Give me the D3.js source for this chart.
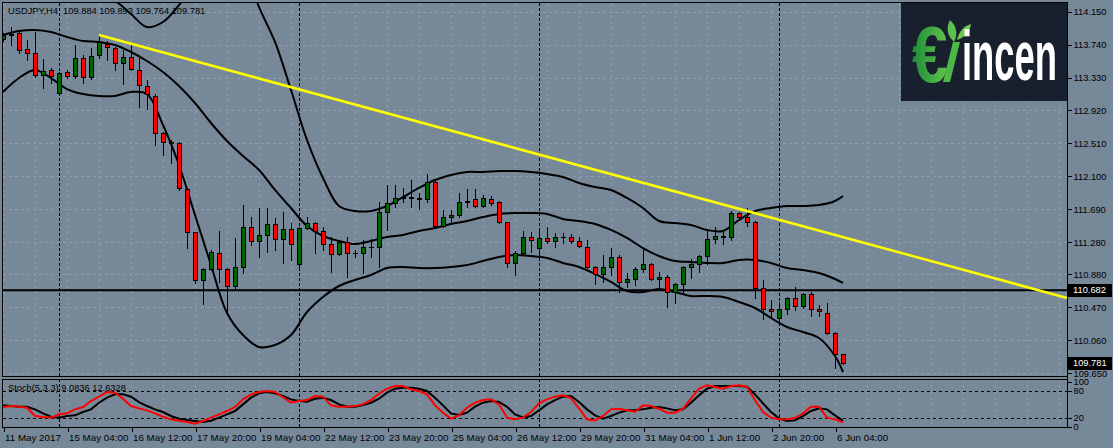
<!DOCTYPE html>
<html><head><meta charset="utf-8">
<script src="https://cdn.jsdelivr.net/npm/d3@7"></script>
<style>
html,body{margin:0;padding:0;background:#778899;}
svg{display:block;}
text{font-family:"Liberation Sans",Arial,sans-serif;}
</style></head><body>
<svg id="c" width="1113" height="448"></svg>
<script>
// ---------- DATA ----------
const symbolTitle = "USDJPY,H4  109.884 109.893 109.764 109.781";
const opens = [113.806,113.860,113.881,113.681,113.632,113.362,113.424,113.142,113.395,113.349,
113.569,113.341,113.611,113.748,113.694,113.515,113.590,113.424,113.229,113.100,
112.635,112.532,112.511,111.938,111.402,110.809,110.942,111.149,110.942,110.738,
110.967,111.465,111.294,111.369,111.506,111.315,111.440,111.008,111.452,111.515,
111.419,111.257,111.129,111.286,111.141,111.141,111.216,111.216,111.660,111.764,
111.826,111.838,111.834,111.813,112.033,111.481,111.598,111.618,111.784,111.813,
111.730,111.813,111.784,111.527,111.017,111.149,111.348,111.203,111.336,111.294,
111.340,111.348,111.294,111.216,110.967,110.884,110.975,111.099,110.780,110.817,
110.942,111.004,110.821,110.850,110.663,110.759,110.967,111.004,111.108,111.315,
111.357,111.340,111.639,111.589,111.535,110.705,110.448,110.332,110.444,110.581,
110.485,110.630,110.444,110.402,110.153,109.884];
const highs = [113.881,113.955,113.901,113.798,113.901,113.557,113.445,113.403,113.424,113.735,
113.611,113.694,113.860,113.780,113.715,113.673,113.735,113.569,113.299,113.125,
112.656,112.552,112.532,111.950,111.411,110.954,111.182,111.423,110.954,111.328,
111.743,111.598,111.701,111.701,111.577,111.660,111.523,111.465,111.598,111.535,
111.473,111.348,111.307,111.348,111.182,111.307,111.315,111.784,111.992,111.992,
111.950,112.054,111.888,112.129,112.054,111.681,111.681,111.896,111.938,111.938,
111.867,111.855,111.797,111.535,111.174,111.423,111.411,111.432,111.473,111.398,
111.390,111.382,111.340,111.307,110.983,111.120,111.203,111.120,110.892,110.975,
111.203,111.017,110.913,110.871,110.767,110.983,111.066,111.120,111.432,111.473,
111.432,111.672,111.660,111.701,111.548,110.809,110.560,110.539,110.601,110.717,
110.643,110.663,110.498,110.518,110.165,109.893];
const lows = [113.790,113.735,113.632,113.549,113.341,113.196,113.258,113.134,113.320,113.320,
113.258,113.308,113.569,113.549,113.424,113.250,113.424,112.959,112.934,112.490,
112.365,112.262,111.930,111.203,110.767,110.510,110.933,110.788,110.370,110.684,
110.892,111.245,111.099,111.162,111.182,111.025,111.058,110.967,111.445,111.141,
111.182,110.913,111.120,110.850,111.099,110.892,111.091,110.975,111.432,111.722,
111.784,111.722,111.689,111.784,111.473,111.465,111.535,111.598,111.722,111.714,
111.714,111.743,111.523,110.967,110.871,111.133,111.162,111.099,111.274,111.216,
111.274,111.265,111.216,110.954,110.759,110.788,110.871,110.663,110.726,110.747,
110.913,110.809,110.684,110.468,110.526,110.651,110.830,110.913,111.008,111.265,
111.257,111.307,111.556,111.481,110.581,110.319,110.361,110.290,110.385,110.435,
110.456,110.361,110.361,110.136,109.709,109.764];
const closes = [113.860,113.875,113.673,113.632,113.362,113.416,113.349,113.391,113.349,113.569,
113.341,113.598,113.773,113.706,113.507,113.590,113.432,113.233,113.125,112.635,
112.532,112.511,111.950,111.411,110.809,110.942,111.162,110.942,110.738,110.967,
111.465,111.299,111.369,111.506,111.315,111.440,111.257,111.452,111.515,111.419,
111.257,111.129,111.286,111.141,111.143,111.216,111.218,111.660,111.764,111.826,
111.838,111.834,111.813,112.033,111.481,111.598,111.618,111.784,111.797,111.730,
111.826,111.772,111.527,111.017,111.149,111.348,111.307,111.336,111.294,111.340,
111.344,111.294,111.232,110.967,110.884,110.975,111.099,110.780,110.817,110.942,
111.004,110.821,110.850,110.663,110.759,110.967,111.004,111.108,111.315,111.357,
111.340,111.639,111.589,111.535,110.705,110.444,110.423,110.444,110.581,110.485,
110.630,110.444,110.419,110.153,109.884,109.781];

// Bollinger bands (20,2) read every two bars
const bbIdx = [0,2,4,6,8,10,12,14,16,18,20,22,24,26,28,30,32,34,36,38,40,42,44,46,48,50,
52,54,56,58,60,62,64,66,68,70,72,74,76,78,80,82,84,86,88,90,92,94,96,98,100,102,104,105];
const bbUpper = [114.545,114.482,114.420,114.395,114.370,114.346,114.333,114.283,114.121,113.959,
114.022,114.233,114.482,114.850,115.000,114.750,114.209,113.773,113.175,112.552,
112.079,111.730,111.668,111.668,111.730,111.842,111.955,112.054,112.116,112.154,
112.154,112.166,112.166,112.154,112.129,112.092,112.017,111.967,111.930,111.830,
111.706,111.544,111.519,111.494,111.432,111.419,111.556,111.668,111.706,111.730,
111.730,111.743,111.793,111.855];
const bbMiddle = [113.860,113.910,113.922,113.897,113.835,113.785,113.773,113.735,113.648,113.536,
113.399,113.225,113.013,112.764,112.540,112.353,112.179,111.930,111.705,111.481,
111.357,111.295,111.257,111.295,111.344,111.369,111.419,111.456,111.506,111.544,
111.593,111.631,111.643,111.643,111.631,111.569,111.544,111.506,111.432,111.332,
111.207,111.108,111.045,111.033,111.021,111.021,111.058,111.058,111.021,110.958,
110.933,110.896,110.821,110.772];
const bbLower = [113.150,113.324,113.424,113.324,113.187,113.125,113.100,113.100,113.150,113.125,
112.739,112.241,111.618,110.996,110.398,110.124,109.975,109.999,110.124,110.410,
110.597,110.734,110.809,110.871,110.958,110.971,110.958,110.958,110.971,110.996,
111.045,111.095,111.120,111.108,111.083,111.021,110.971,110.884,110.784,110.672,
110.659,110.697,110.659,110.610,110.610,110.597,110.535,110.460,110.336,110.224,
110.161,110.087,109.862,109.663];

// Stochastic (5,3,3)
const stochLabel = "Stoch(5,3,3) 9.0836 12.6328";
const stochK = [43.3,45.5,44,41.8,23.3,21,19.6,27,29.2,38.1,
43.3,56.6,66.3,76.6,75.2,61.8,45.5,40.3,35.9,29.2,
21.8,15.9,12.9,10,6.2,12.2,19.6,27,34.4,43.3,
60.3,71.4,76.6,78.9,76.6,65,52.9,56.6,58.8,67.7,
66.3,47,44,44,45.5,49.2,58.8,72.9,84,90,
90,82.6,78.9,71.4,47,30.7,17.4,24.8,41.8,52.9,
58.8,60.3,49.2,19.6,15.9,19.6,32.2,51.4,60.3,66.3,
69.2,63,40.3,15.9,13.6,23.3,38.1,39.6,35.9,32.9,
47,45.5,39.6,30.7,30.7,39.6,61.8,84,91.5,87.7,
84,90,91.5,88.5,58.8,32.2,19.6,15.9,15.9,18.8,
29.2,44,44,19.6,15.9,9.0836];
const stochD = [47,45.5,44,44,38.1,29.2,21.8,19.6,23.3,24.8,
32.2,38.1,52.9,64,71.4,71.4,66.3,54.4,45.5,38.1,
32.2,23.3,17.4,14.4,12.2,10,12.9,19.6,27,34.4,
49.2,64,73.7,76.6,73.7,67.7,60.3,56.6,55.1,61.8,
64,58.8,49.2,44,44,47.7,52.9,61.8,75.2,84,
86.3,86.3,84,78.9,64,47,29.2,25.5,30.7,44,
52.9,56.6,54.4,44,27,20.3,23.3,35.9,49.2,58.8,
66.3,67.7,54.4,38.1,24.8,17.4,23.3,30.7,35.9,36.6,
38.1,41.8,43.3,40.3,35.9,38.1,52.9,69.2,84,90,
90,90,90,88.5,71.4,51.4,32.2,18.1,12.2,13.6,
23.3,34.4,40.3,38.1,24.8,12.6328];
const stochLevels = [80, 20];
const stochTicks = [100, 80, 20, 0];

// Axes
const priceTicks = [114.150,113.740,113.330,112.920,112.510,112.100,111.690,111.280,110.880,110.470,110.060,109.650];
const timeLabelIdx = [0,8,16,24,32,40,48,56,64,72,80,88,96,104];
const timeLabels = ["11 May 2017","15 May 04:00","16 May 12:00","17 May 20:00","19 May 04:00","22 May 12:00",
"23 May 20:00","25 May 04:00","26 May 12:00","29 May 20:00","31 May 04:00","1 Jun 12:00","2 Jun 20:00","6 Jun 04:00"];
const weekSeparatorIdx = [7,37,67,97];

// Objects
const hLinePrice = 110.682;
const trendIdx = [12, 133];
const trendPrice = [113.860, 110.585];
const lastPrice = 109.781;

// ---------- DRAWING ----------
const W = 1113, H = 448;
const svg = d3.select("#c");
const defs = svg.append("defs");
const L = 3, R = 1067;
const mainTop = 3, mainBot = 377;
const stTop = 379, stBot = 427.5;

const x = d3.scaleLinear().domain([0, 133]).range([L, R]);
const y = d3.scaleLinear().domain([109.65, 114.15]).range([373.05, 11.7]);
const yS = d3.scaleLinear().domain([0, 100]).range([426.5, 381.5]);

defs.append("clipPath").attr("id","clipMain").append("rect")
  .attr("x",L).attr("y",mainTop).attr("width",R-L).attr("height",mainBot-mainTop);
defs.append("clipPath").attr("id","clipSt").append("rect")
  .attr("x",L).attr("y",stTop+1).attr("width",R-L).attr("height",stBot-stTop-1);

svg.append("rect").attr("width",W).attr("height",H).attr("fill","#778899");

const gridCol = "#8e9cab";
const gridIdx = d3.range(0, 134, 4);
const grid = svg.append("g").attr("shape-rendering","crispEdges");
grid.selectAll("line.v").data(gridIdx).join("line")
  .attr("x1",d=>Math.round(x(d))+0.5).attr("x2",d=>Math.round(x(d))+0.5)
  .attr("y1",mainTop).attr("y2",mainBot)
  .attr("stroke",gridCol).attr("stroke-dasharray","3,3");
grid.selectAll("line.vs").data(gridIdx).join("line")
  .attr("x1",d=>Math.round(x(d))+0.5).attr("x2",d=>Math.round(x(d))+0.5)
  .attr("y1",stTop).attr("y2",stBot)
  .attr("stroke",gridCol).attr("stroke-dasharray","3,3");
grid.selectAll("line.h").data(priceTicks).join("line")
  .attr("x1",L).attr("x2",R)
  .attr("y1",d=>Math.round(y(d))+0.5).attr("y2",d=>Math.round(y(d))+0.5)
  .attr("stroke",gridCol).attr("stroke-dasharray","3,3");

const sep = svg.append("g").attr("shape-rendering","crispEdges");
sep.selectAll("line.a").data(weekSeparatorIdx).join("line")
  .attr("x1",d=>x(d)+0.5).attr("x2",d=>x(d)+0.5).attr("y1",mainTop).attr("y2",mainBot)
  .attr("stroke","#000").attr("stroke-dasharray","3,2");
sep.selectAll("line.b").data(weekSeparatorIdx).join("line")
  .attr("x1",d=>x(d)+0.5).attr("x2",d=>x(d)+0.5).attr("y1",stTop).attr("y2",stBot)
  .attr("stroke","#000").attr("stroke-dasharray","3,2");

const main = svg.append("g").attr("clip-path","url(#clipMain)");

main.append("line").attr("x1",L).attr("x2",R)
  .attr("y1",y(hLinePrice)).attr("y2",y(hLinePrice))
  .attr("stroke","#000").attr("stroke-width",2);

const bbLine = d3.line().x(d=>x(d[0])).y(d=>y(d[1])).curve(d3.curveCatmullRom.alpha(0.5));
[bbUpper, bbMiddle, bbLower].forEach(arr=>{
  main.append("path").attr("d", bbLine(bbIdx.map((d,k)=>[d, arr[k]])))
    .attr("fill","none").attr("stroke","#000").attr("stroke-width",2);
});

const bars = opens.map((o,i)=>({i,o,h:highs[i],l:lows[i],c:closes[i]}));
const cg = main.append("g").attr("shape-rendering","crispEdges");
bars.forEach(b=>{
  const cx = Math.round(x(b.i));
  const yh = Math.round(y(b.h)), yl = Math.round(y(b.l));
  cg.append("rect").attr("x",cx).attr("y",yh).attr("width",1).attr("height",Math.max(1,yl-yh+1)).attr("fill","#000");
  const top = Math.round(y(Math.max(b.o,b.c))), bot = Math.round(y(Math.min(b.o,b.c)));
  cg.append("rect").attr("x",cx-2).attr("y",top).attr("width",5).attr("height",Math.max(1,bot-top+1)).attr("fill","#000");
  if (bot-top-1 > 0) {
    cg.append("rect").attr("x",cx-1).attr("y",top+1).attr("width",3).attr("height",bot-top-1)
      .attr("fill", b.c >= b.o ? "#006400" : "#ff0000");
  }
});

main.append("line")
  .attr("x1",x(trendIdx[0])).attr("y1",y(trendPrice[0]))
  .attr("x2",x(trendIdx[1])).attr("y2",y(trendPrice[1]))
  .attr("stroke","#ffff00").attr("stroke-width",2.5);

const st = svg.append("g").attr("clip-path","url(#clipSt)");
st.selectAll("line.lv").data(stochLevels).join("line")
  .attr("x1",L).attr("x2",R).attr("y1",d=>Math.round(yS(d))+0.5).attr("y2",d=>Math.round(yS(d))+0.5)
  .attr("stroke","#000").attr("stroke-dasharray","3,3").attr("shape-rendering","crispEdges");
const sLine = d3.line().x((d,i)=>x(i)).y(d=>yS(d));
st.append("path").attr("d",sLine(stochD)).attr("fill","none").attr("stroke","#000").attr("stroke-width",2);
st.append("path").attr("d",sLine(stochK)).attr("fill","none").attr("stroke","#ff0000").attr("stroke-width",2);

const fr = svg.append("g").attr("shape-rendering","crispEdges").attr("fill","none").attr("stroke","#000");
fr.append("rect").attr("x",L-0.5).attr("y",mainTop-0.5).attr("width",R-L+1).attr("height",mainBot-mainTop);
fr.append("rect").attr("x",L-0.5).attr("y",stTop+0.5).attr("width",R-L+1).attr("height",stBot-stTop-0.5);

// Logo
const lg = defs.append("linearGradient").attr("id","lgG").attr("x1","0").attr("x2","1").attr("y1","0").attr("y2","0");
lg.append("stop").attr("offset","0").attr("stop-color","#1c8c3a");
lg.append("stop").attr("offset","1").attr("stop-color","#64c24a");
const logo = svg.append("g");
logo.append("rect").attr("x",901).attr("y",3).attr("width",166).attr("height",98).attr("fill","#18202e");
logo.append("text").attr("transform","translate(912,82) scale(0.8,1)").attr("font-size",80).attr("font-weight","bold")
  .attr("fill","url(#lgG)").text("€");
logo.append("path").attr("d","M943,82 L950,82 L960,42 L953,42 Z").attr("fill","#4db848");
logo.append("path").attr("d","M954,42 C947,36 946,27 950,20 C957,26 958,35 954,42 Z").attr("fill","#5cc04c");
logo.append("path").attr("d","M957,40 C959,31 964,26 971,24 C970,32 964,38 957,40 Z").attr("fill","#6cc84e");
logo.append("text").attr("transform","translate(962,80) scale(0.52,1)").attr("font-size",70).attr("font-weight","bold")
  .attr("fill","#fff").text("incen");

// Title texts
svg.append("text").attr("x",8).attr("y",14).attr("font-size",9.3).attr("fill","#000")
  .attr("xml:space","preserve").style("white-space","pre").text(symbolTitle);
svg.append("text").attr("x",8).attr("y",391).attr("font-size",9.3).attr("fill","#000").text(stochLabel);

// Price axis
const pAxis = d3.axisRight(y).tickValues(priceTicks).tickFormat(d3.format(".3f")).tickSize(4).tickPadding(2);
const pa = svg.append("g").attr("transform",`translate(${R+0.5},0)`).call(pAxis);
pa.select(".domain").remove();
pa.selectAll("line").attr("stroke","#000").attr("shape-rendering","crispEdges");
pa.selectAll("text").attr("font-size",9.3).attr("fill","#000").attr("font-family","Liberation Sans, Arial, sans-serif");

// Stoch axis
const sAxis = d3.axisRight(yS).tickValues(stochTicks).tickSize(4).tickPadding(2);
const sa = svg.append("g").attr("transform",`translate(${R+0.5},0)`).call(sAxis);
sa.select(".domain").remove();
sa.selectAll("line").attr("stroke","#000").attr("shape-rendering","crispEdges");
sa.selectAll("text").attr("font-size",9.3).attr("fill","#000").attr("font-family","Liberation Sans, Arial, sans-serif");

function priceBox(p){
  const g = svg.append("g");
  const yy = Math.round(y(p));
  g.append("rect").attr("x",R+1).attr("y",yy-6).attr("width",W-R-2).attr("height",13).attr("fill","#000");
  g.append("text").attr("x",R+6).attr("y",yy).attr("dy","0.35em").attr("font-size",9.3).attr("fill","#fff").text(p.toFixed(3));
}
priceBox(hLinePrice);
priceBox(lastPrice);

svg.append("line").attr("x1",R+0.5).attr("x2",R+0.5).attr("y1",mainTop-1).attr("y2",stBot)
  .attr("stroke","#000").attr("shape-rendering","crispEdges");

// Time axis
const tAxis = d3.axisBottom(x).tickValues(timeLabelIdx).tickFormat((d,k)=>timeLabels[k]).tickSize(4).tickPadding(3);
const ta = svg.append("g").attr("transform",`translate(0.5,${stBot})`).call(tAxis);
ta.select(".domain").remove();
ta.selectAll("line").attr("stroke","#000").attr("shape-rendering","crispEdges");
ta.selectAll("text").attr("text-anchor","start").attr("dx",1).attr("font-size",9.8).attr("fill","#000")
  .attr("font-family","Liberation Sans, Arial, sans-serif");
</script>
</body></html>
